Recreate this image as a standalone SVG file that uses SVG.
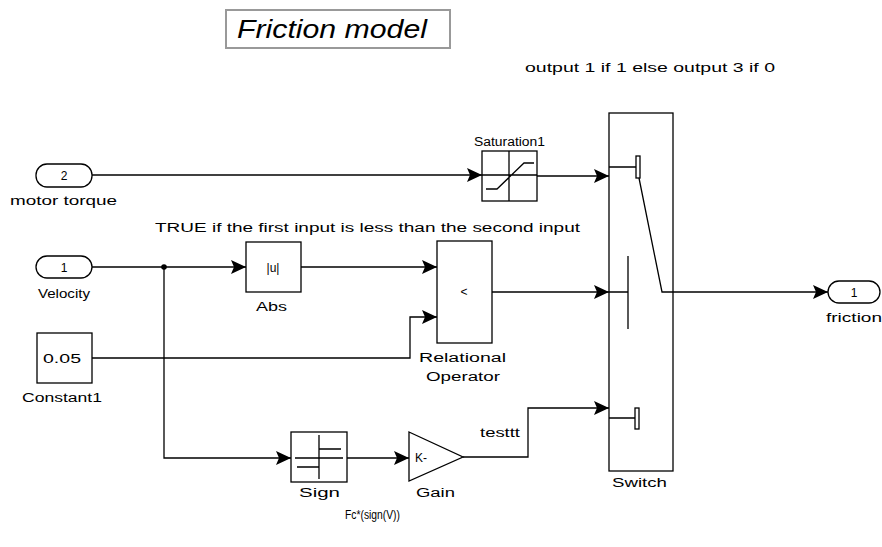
<svg xmlns="http://www.w3.org/2000/svg" width="882" height="547" viewBox="0 0 882 547">
<defs>
<style>
.blk{fill:#fff;stroke:#000;stroke-width:1.3}
.ico{fill:none;stroke:#000;stroke-width:1.3}
.w{fill:none;stroke:#000;stroke-width:1.3}
.t{font-family:"Liberation Sans",Arial,sans-serif;font-size:12px;fill:#000}
.c{text-anchor:middle}
</style>
<marker id="ah" markerUnits="userSpaceOnUse" markerWidth="16" markerHeight="14" refX="15" refY="7" orient="auto">
<path d="M0,0 L15,7 L0,14 L3,7 z" fill="#000"/>
</marker>
</defs>
<rect width="882" height="547" fill="#fff"/>

<g id="title">
<rect x="226" y="10" width="224" height="38" fill="#fff" stroke="#999" stroke-width="2"/>
<text x="237" y="38" font-family="Liberation Sans,Arial,sans-serif" font-size="26" font-style="italic" textLength="190" lengthAdjust="spacingAndGlyphs">Friction model</text>
</g>
<text class="t" x="525" y="72" textLength="250" lengthAdjust="spacingAndGlyphs">output 1 if 1 else output 3 if 0</text>
<text class="t" x="155" y="232" textLength="425" lengthAdjust="spacingAndGlyphs">TRUE if the first input is less than the second input</text>
<text class="t" x="345" y="519" font-size="11" textLength="55" lengthAdjust="spacingAndGlyphs">Fc*(sign(V))</text>

<g id="connectors">
<path class="w" d="M92,175 H482" marker-end="url(#ah)"/>
<path class="w" d="M537,176 H609" marker-end="url(#ah)"/>
<path class="w" d="M92,267 H246" marker-end="url(#ah)"/>
<path class="w" d="M301,267 H437" marker-end="url(#ah)"/>
<path class="w" d="M92,358 H410 V317 H437" marker-end="url(#ah)"/>
<path class="w" d="M164,267 V458 H291" marker-end="url(#ah)"/>
<path class="w" d="M347,458 H409" marker-end="url(#ah)"/>
<path class="w" d="M463,457 H528 V408 H609" marker-end="url(#ah)"/>
<path class="w" d="M492,292 H609" marker-end="url(#ah)"/>
<path class="w" d="M673,292 H828" marker-end="url(#ah)"/>
<circle cx="164" cy="267" r="2.8" fill="#000"/>
<text class="t" x="480" y="437" textLength="40" lengthAdjust="spacingAndGlyphs">testtt</text>
</g>

<g id="in_motor_torque">
<rect class="blk" x="36" y="164" width="56" height="23" rx="11"/>
<text class="t c" x="64" y="180" font-size="13">2</text>
<text class="t" x="10" y="205" textLength="107" lengthAdjust="spacingAndGlyphs">motor torque</text>
</g>

<g id="in_velocity">
<rect class="blk" x="36" y="256" width="56" height="22" rx="11"/>
<text class="t c" x="64" y="272" font-size="13">1</text>
<text class="t" x="38" y="298" textLength="52" lengthAdjust="spacingAndGlyphs">Velocity</text>
</g>

<g id="constant1">
<rect class="blk" x="37" y="333" width="55" height="50"/>
<text class="t" x="43" y="363" font-size="13" textLength="38" lengthAdjust="spacingAndGlyphs">0.05</text>
<text class="t" x="22" y="402" textLength="80" lengthAdjust="spacingAndGlyphs">Constant1</text>
</g>

<g id="saturation1">
<rect class="blk" x="482" y="151" width="55" height="50"/>
<path class="ico" d="M509,151 V201 M482,175 H537 M486,189 H497 L524,163 H534"/>
<text class="t" x="474" y="146" textLength="71" lengthAdjust="spacingAndGlyphs">Saturation1</text>
</g>

<g id="abs">
<rect class="blk" x="246" y="242" width="55" height="50"/>
<text class="t c" x="273" y="272" font-size="13">|u|</text>
<text class="t" x="256" y="311" textLength="31" lengthAdjust="spacingAndGlyphs">Abs</text>
</g>

<g id="relational_operator">
<rect class="blk" x="437" y="241" width="55" height="102"/>
<text class="t c" x="464" y="296" font-size="13">&lt;</text>
<text class="t" x="419" y="362" textLength="87" lengthAdjust="spacingAndGlyphs">Relational</text>
<text class="t" x="426" y="381" textLength="74" lengthAdjust="spacingAndGlyphs">Operator</text>
</g>

<g id="sign">
<rect class="blk" x="291" y="432" width="56" height="50"/>
<path class="ico" d="M319,435 V479 M295,458 H343 M319,449 H341 M297,467 H319"/>
<text class="t" x="299" y="497" textLength="41" lengthAdjust="spacingAndGlyphs">Sign</text>
</g>

<g id="gain">
<path class="blk" d="M409,432 L463,457 L409,481 z"/>
<text class="t" x="415" y="462" font-size="13">K-</text>
<text class="t" x="416" y="497" textLength="39" lengthAdjust="spacingAndGlyphs">Gain</text>
</g>

<g id="switch">
<rect class="blk" x="609" y="113" width="64" height="358"/>
<path class="ico" d="M609,167 H637 M609,292 H628 M628,256 V329 M609,418 H636 M639,178 L662,292 H673"/>
<rect class="blk" x="636" y="156" width="4" height="22"/>
<rect class="blk" x="635" y="408" width="4" height="21"/>
<text class="t" x="612" y="487" textLength="55" lengthAdjust="spacingAndGlyphs">Switch</text>
</g>

<g id="out_friction">
<rect class="blk" x="828" y="281" width="52" height="22" rx="11"/>
<text class="t c" x="854" y="297" font-size="13">1</text>
<text class="t" x="826" y="322" textLength="56" lengthAdjust="spacingAndGlyphs">friction</text>
</g>
</svg>
